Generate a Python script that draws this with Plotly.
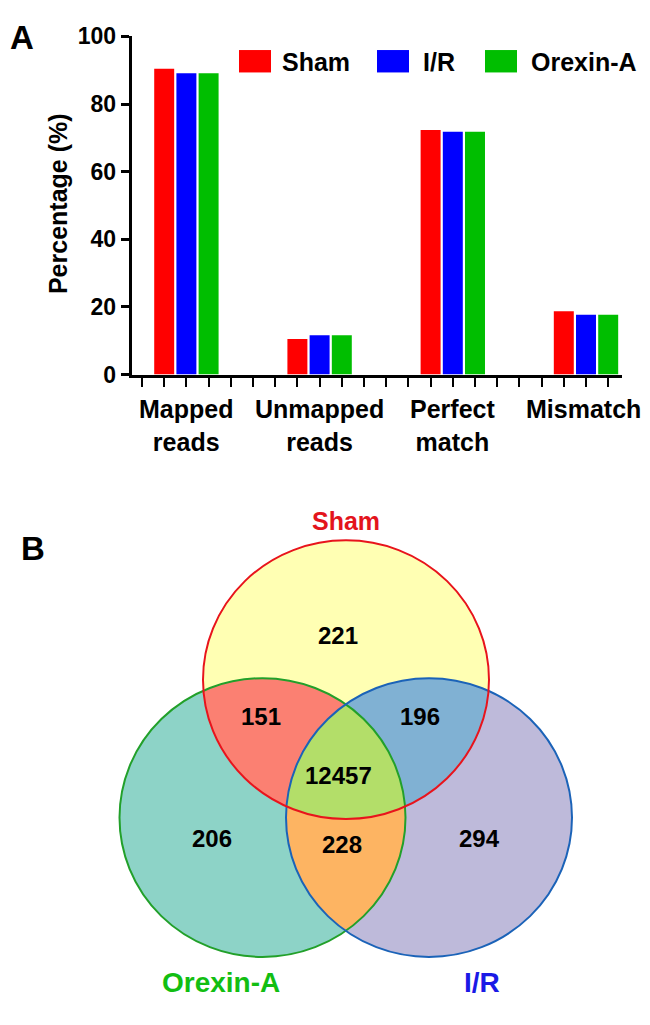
import numpy as np
import plotly.graph_objects as go

# ---------------- data ----------------
categories = ["Mapped<br>reads", "Unmapped<br>reads", "Perfect<br>match", "Mismatch"]
series_names = ["Sham", "I/R", "Orexin-A"]
sham_vals = [90.4, 10.5, 72.3, 18.7]
ir_vals = [89.1, 11.6, 71.8, 17.7]
orexin_vals = [89.1, 11.6, 71.8, 17.7]
y_ticks = [0, 20, 40, 60, 80, 100]

venn_sets = ["Sham", "Orexin-A", "I/R"]
venn_region_members = [("Sham",), ("Sham", "Orexin-A"), ("Sham", "I/R"),
                       ("Sham", "Orexin-A", "I/R"), ("Orexin-A",),
                       ("Orexin-A", "I/R"), ("I/R",)]
venn_counts = [221, 151, 196, 12457, 206, 228, 294]

# ---------------- style / geometry ----------------
W, H = 650, 1025
FONT = "Liberation Sans, Arial, Helvetica, sans-serif"
bar_colors = ["#FF0000", "#0000FF", "#00BE00"]


def px(x):
    return x / W


def py(y):
    return 1 - y / H


SLOTS_PER_GROUP = 6
n_slots = SLOTS_PER_GROUP * len(categories) - 2  # 22 ticks: 0..21

fig = go.Figure()

all_vals = [sham_vals, ir_vals, orexin_vals]
for si, (name, vals, col) in enumerate(zip(series_names, all_vals, bar_colors)):
    xs = [SLOTS_PER_GROUP * g + si + 1 for g in range(len(categories))]
    fig.add_trace(go.Bar(x=xs, y=vals, name=name, width=0.9,
                         marker=dict(color=col, line=dict(width=0)),
                         showlegend=False, xaxis="x", yaxis="y",
                         hoverinfo="skip"))

# ---------------- Venn diagram ----------------
circ = {
    "Sham": dict(cx=346.0, cy=684.0, r=143.0, fill="#FFFFB3", line="#E8141C"),
    "Orexin-A": dict(cx=262.5, cy=825.5, r=143.0, fill="#8DD3C7", line="#22A02A"),
    "I/R": dict(cx=429.0, cy=825.5, r=143.0, fill="#BEBADA", line="#1B63B8"),
}
pair_fill = {
    ("Sham", "Orexin-A"): "#FB8072",
    ("Sham", "I/R"): "#80B1D3",
    ("Orexin-A", "I/R"): "#FDB462",
}
triple_fill = "#B3DE69"


def inside(c, x, y):
    return (x - c["cx"]) ** 2 + (y - c["cy"]) ** 2 <= c["r"] ** 2 + 1e-6


def intersection_poly(names, n=3000):
    cs = [circ[k] for k in names]
    xs, ys = [], []
    t = np.linspace(0, 2 * np.pi, n, endpoint=False)
    for i, c in enumerate(cs):
        x = c["cx"] + c["r"] * np.cos(t)
        y = c["cy"] + c["r"] * np.sin(t)
        m = np.ones_like(x, dtype=bool)
        for j, o in enumerate(cs):
            if j != i:
                m &= inside(o, x, y)
        xs.append(x[m])
        ys.append(y[m])
    x = np.concatenate(xs)
    y = np.concatenate(ys)
    mx, my = x.mean(), y.mean()
    order = np.argsort(np.arctan2(y - my, x - mx))
    x, y = x[order], y[order]
    return np.append(x, x[0]), np.append(y, y[0])


def add_fill(x, y, color):
    fig.add_trace(go.Scatter(x=x, y=y, mode="lines", fill="toself",
                             fillcolor=color, line=dict(width=0, color=color),
                             xaxis="x2", yaxis="y2", showlegend=False,
                             hoverinfo="skip"))


# base circles
for k in venn_sets:
    x, y = intersection_poly([k])
    add_fill(x, y, circ[k]["fill"])
# pairwise lenses
for pair, col in pair_fill.items():
    x, y = intersection_poly(list(pair))
    add_fill(x, y, col)
# triple
x, y = intersection_poly(venn_sets)
add_fill(x, y, triple_fill)

shapes = []
for k in ["Orexin-A", "I/R", "Sham"]:
    c = circ[k]
    shapes.append(dict(type="circle", xref="x2", yref="y2",
                       x0=c["cx"] - c["r"], x1=c["cx"] + c["r"],
                       y0=c["cy"] - c["r"], y1=c["cy"] + c["r"],
                       line=dict(color=c["line"], width=2), layer="above"))

# legend rectangles (panel A)
legend_rects = [(239, 271), (377, 409), (485, 517)]
for (x0, x1), col in zip(legend_rects, bar_colors):
    shapes.append(dict(type="rect", xref="paper", yref="paper",
                       x0=px(x0), x1=px(x1), y0=py(61), y1=py(38),
                       fillcolor=col, line=dict(width=0), layer="above"))

annotations = []
legend_text_x = [280, 421, 529]
for name, xt in zip(series_names, legend_text_x):
    annotations.append(dict(text=name, x=px(xt), y=py(50), xref="paper", yref="paper",
                            xanchor="left", yanchor="middle", showarrow=False,
                            font=dict(family=FONT, size=25, color="black", weight="bold")))

# category labels (top-anchored so single-line labels sit on the first line)
for g, cat in enumerate(categories):
    annotations.append(dict(text=cat, x=SLOTS_PER_GROUP * g + 2, y=py(390),
                            xref="x", yref="paper", xanchor="center", yanchor="top",
                            showarrow=False, xshift=(-3 if g == len(categories) - 1 else 0),
                            font=dict(family=FONT, size=25, color="black", weight="bold")))

# y axis title
annotations.append(dict(text="Percentage (%)", x=px(58), y=py(195), xref="paper",
                        yref="paper", textangle=-90, showarrow=False,
                        xanchor="center", yanchor="middle",
                        font=dict(family=FONT, size=25, color="black", weight="bold")))

# panel letters
annotations.append(dict(text="A", x=px(22), y=py(25), xref="paper", yref="paper",
                        showarrow=False, xanchor="center", yanchor="middle",
                        font=dict(family=FONT, size=33, color="black", weight="bold")))
annotations.append(dict(text="B", x=px(33), y=py(549), xref="paper", yref="paper",
                        showarrow=False, xanchor="center", yanchor="middle",
                        font=dict(family=FONT, size=33, color="black", weight="bold")))

# Venn counts
region_label_pos = [(338, 639), (261, 722), (420, 722), (338, 782),
                    (212, 847), (342, 853), (479, 847)]
for cnt, (lx, ly) in zip(venn_counts, region_label_pos):
    annotations.append(dict(text=str(cnt), x=lx, y=ly, xref="x2", yref="y2",
                            showarrow=False, xanchor="center", yanchor="middle",
                            font=dict(family=FONT, size=24, color="black", weight="bold")))

# Venn set names
set_label = {
    "Sham": dict(pos=(346, 521), color="#E3141C", size=25),
    "Orexin-A": dict(pos=(221, 995), color="#12BE12", size=28),
    "I/R": dict(pos=(482, 995), color="#1A1AE6", size=28),
}
for k in venn_sets:
    s = set_label[k]
    annotations.append(dict(text=k, x=s["pos"][0], y=s["pos"][1], xref="x2", yref="y2",
                            showarrow=False, xanchor="center", yanchor="middle",
                            font=dict(family=FONT, size=s["size"], color=s["color"],
                                      weight="bold")))

slot0_px, slot_w = 142.0, 22.2
x_left, x_right = 131.7, 621.7

fig.update_layout(
    width=W, height=H,
    margin=dict(l=0, r=0, t=0, b=0),
    paper_bgcolor="white", plot_bgcolor="rgba(0,0,0,0)",
    barmode="overlay",
    showlegend=False,
    xaxis=dict(domain=[px(x_left), px(x_right)],
               range=[(x_left - slot0_px) / slot_w, (x_right - slot0_px) / slot_w],
               showgrid=False, zeroline=False, showline=True, linecolor="black",
               linewidth=3, ticks="outside", ticklen=9, tickwidth=2, tickcolor="black",
               tickvals=list(range(n_slots)), showticklabels=False, fixedrange=True),
    yaxis=dict(domain=[py(371), py(24)], range=[0, 100], showgrid=False,
               zeroline=False, showline=True, linecolor="black", linewidth=3,
               ticks="outside", ticklen=8, tickwidth=2.5, tickcolor="black",
               tickvals=y_ticks, ticktext=[str(v) for v in y_ticks],
               tickfont=dict(family=FONT, size=23, color="black", weight="bold"),
               fixedrange=True),
    xaxis2=dict(domain=[0, 1], range=[0, W], visible=False, fixedrange=True),
    yaxis2=dict(domain=[0, 0.5], range=[H, H * 0.5], visible=False, fixedrange=True),
    shapes=shapes,
    annotations=annotations,
)

fig.write_html("out.html", config={"displayModeBar": False},
               post_script="document.body.style.margin='0';document.body.style.overflow='hidden';")
